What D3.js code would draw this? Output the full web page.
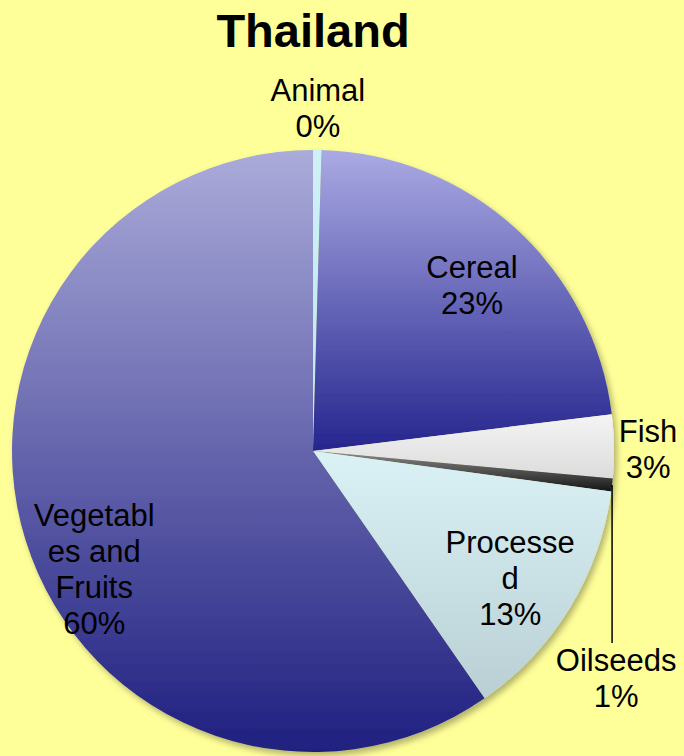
<!DOCTYPE html>
<html>
<head>
<meta charset="utf-8">
<script src="https://cdn.jsdelivr.net/npm/d3@7"></script>
<style>
  html, body { margin: 0; padding: 0; background: #ffff99; }
  svg { display: block; }
  text { font-family: "Liberation Sans", Arial, sans-serif; fill: #000; }
</style>
</head>
<body>
<div id="vis"></div>
<script>
'use strict';

// Chart data (shares of exports, percent)
const categories = ['Animal', 'Cereal', 'Fish', 'Oilseeds', 'Processed', 'Vegetables and Fruits'];
const values = [0.45, 22.6, 3.4, 0.7, 13.2, 59.65];
// label lines as Excel wrapped them
const labelLines = [
  ['Animal'],
  ['Cereal'],
  ['Fish'],
  ['Oilseeds'],
  ['Processe', 'd'],
  ['Vegetabl', 'es and', 'Fruits']
];

// Sizing
const width = 684;
const height = 756;
const center = { x: 313, y: 451 };
const radius = 301;
const lineHeight = 36;

// fill gradients for each slice, top -> bottom
const fills = [
  ['#cdf1f6', '#bfe6ee'],
  ['#aaaae4', '#25258e'],
  ['#f4f4f4', '#dcdcdc'],
  ['#8a8a8a', '#151515'],
  ['#daf2f6', '#b9cfd3'],
  ['#ababda', '#1f1f80']
];

// where each label sits: radius factor of the slice mid angle plus a nudge
const labelPlace = [
  { k: 1.14, dx: 0, dy: 0 },
  { k: 0.76, dx: 5, dy: 3 },
  { k: 1.11, dx: 1, dy: 3 },
  { k: 0, dx: 0, dy: 0 },        // leader line label, handled below
  { k: 0.78, dx: -3, dy: 4 },
  { k: 0.80, dx: 11, dy: 46 }
];

const svg = d3.select('#vis')
  .append('svg')
  .attr('width', width)
  .attr('height', height);

svg.append('rect')
  .attr('width', width)
  .attr('height', height)
  .attr('fill', '#ffff99');

const defs = svg.append('defs');

const shadow = defs.append('filter')
  .attr('id', 'shadow')
  .attr('x', '-10%').attr('y', '-10%')
  .attr('width', '125%').attr('height', '125%');
shadow.append('feDropShadow')
  .attr('dx', 3).attr('dy', 4)
  .attr('stdDeviation', 3)
  .attr('flood-color', '#000')
  .attr('flood-opacity', 0.3);

fills.forEach(function (f, i) {
  const g = defs.append('linearGradient')
    .attr('id', 'grad' + i)
    .attr('x1', 0).attr('y1', 0)
    .attr('x2', 0).attr('y2', 1);
  g.append('stop').attr('offset', '0%').attr('stop-color', f[0]);
  g.append('stop').attr('offset', '100%').attr('stop-color', f[1]);
});

// Title
svg.append('text')
  .attr('x', 313)
  .attr('y', 47)
  .attr('text-anchor', 'middle')
  .style('font-size', '47px')
  .style('font-weight', 'bold')
  .text('Thailand');

const pie = d3.pie()
  .sort(null)
  .value(function (d) { return d; });

const arcs = pie(values);

const arc = d3.arc()
  .innerRadius(0)
  .outerRadius(radius);

const pieG = svg.append('g')
  .attr('transform', 'translate(' + center.x + ',' + center.y + ')');

const sliceG = pieG.append('g').attr('filter', 'url(#shadow)');

sliceG.selectAll('path')
  .data(arcs)
  .enter()
  .append('path')
  .attr('d', arc)
  .attr('fill', function (d, i) { return 'url(#grad' + i + ')'; });

function midAngle(d) { return (d.startAngle + d.endAngle) / 2; }

// Labels
arcs.forEach(function (d, i) {
  const lines = labelLines[i].concat([Math.round(values[i]) + '%']);
  let cx, cy;

  if (categories[i] === 'Oilseeds') {
    // leader line straight down from the slice edge
    const a = midAngle(d);
    const px = Math.sin(a) * radius;
    const py = -Math.cos(a) * radius;
    const endY = 192;
    pieG.append('line')
      .attr('x1', px).attr('y1', py)
      .attr('x2', px).attr('y2', endY)
      .attr('stroke', '#000')
      .attr('stroke-width', 1.5);
    cx = px + 4;
    cy = endY + 10 + lineHeight / 2 + 7;
  } else {
    const p = labelPlace[i];
    const a = midAngle(d);
    cx = Math.sin(a) * radius * p.k + p.dx;
    cy = -Math.cos(a) * radius * p.k + p.dy;
  }

  const firstBase = cy - (lines.length - 1) * lineHeight / 2 + 11;
  const t = pieG.append('text')
    .attr('text-anchor', 'middle')
    .style('font-size', '31px');
  lines.forEach(function (s, j) {
    t.append('tspan')
      .attr('x', cx)
      .attr('y', firstBase + j * lineHeight)
      .text(s);
  });
});
</script>
</body>
</html>
